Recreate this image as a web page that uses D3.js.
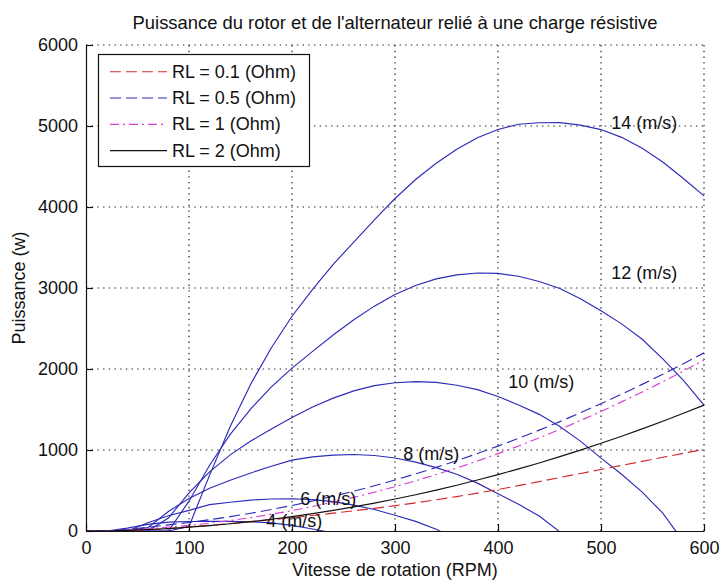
<!DOCTYPE html>
<html>
<head>
<meta charset="utf-8">
<script src="https://cdn.jsdelivr.net/npm/d3@7"></script>
<style>
  html, body { margin: 0; padding: 0; background: #fff; }
  svg { display: block; }
  text { font-family: "Liberation Sans", Arial, Helvetica, sans-serif; fill: #111; }
</style>
</head>
<body>
<svg id="chart" width="720" height="583"></svg>
<script>
// ---------------- data ----------------
const rpm = [0,20,40,60,80,100,120,140,160,180,200,220,240,260,280,300,320,340,360,380,400,420,440,460,480,500,520,540,560,580,600];

// rotor power (W) for each wind speed
const windSpeeds = ["4 (m/s)", "6 (m/s)", "8 (m/s)", "10 (m/s)", "12 (m/s)", "14 (m/s)"];
const rotor4  = [0,0,35,82,110,117,119,118,114,100,70,25,-25,null,null,null,null,null,null,null,null,null,null,null,null,null,null,null,null,null,null];
const rotor6  = [0,0,0,102,189,255,325,355,382,395,398,388,362,320,266,194,119,22,-108,null,null,null,null,null,null,null,null,null,null,null,null];
const rotor8  = [0,0,0,41,241,402,527,627,717,799,875,915,937,944,932,901,850,782,701,591,461,330,184,-10,-256,null,null,null,null,null,null];
const rotor10 = [0,0,0,0,160,470,730,940,1110,1260,1400,1530,1640,1730,1795,1830,1845,1835,1800,1745,1660,1555,1440,1290,1110,900,700,480,220,-130,-500];
const rotor12 = [0,0,0,0,0,368,812,1193,1509,1780,2011,2217,2419,2609,2776,2920,3030,3113,3162,3185,3180,3145,3081,2993,2868,2718,2557,2367,2125,1861,1555];
const rotor14 = [0,0,0,0,0,55,690,1290,1816,2263,2651,2982,3293,3567,3842,4105,4340,4541,4714,4854,4956,5022,5040,5042,5010,4956,4860,4725,4555,4352,4137];

// wind-speed label anchor points (data coordinates)
const labelRpm   = [175, 208, 308, 410, 510, 510];
const labelPower = [118, 397, 945, 1845, 3185, 5040];

// alternator power (W) for each load resistance
const loadLabels = ["RL = 0.1 (Ohm)", "RL = 0.5 (Ohm)", "RL = 1 (Ohm)", "RL = 2 (Ohm)"];
const alt01 = [0,0,5,15,30,50,70,92,115,140,165,192,220,250,280,313,348,385,425,468,512,560,610,660,710,760,810,860,910,960,1008];
const alt05 = [0,0,20,45,76,105,139,177,219,265,315,370,429,491,558,630,705,785,868,956,1048,1145,1245,1350,1459,1572,1689,1810,1936,2065,2199];
const alt1  = [0,0,14,28,47,69,97,129,165,206,252,302,356,415,479,547,620,697,778,864,955,1050,1150,1254,1363,1476,1594,1716,1843,1974,2110];
const alt2  = [0,0,8,18,30,47,66,89,115,145,178,215,254,298,344,395,448,505,565,629,696,767,840,918,998,1083,1170,1261,1355,1453,1554];

const xTicks = [0,100,200,300,400,500,600];
const yTicks = [0,1000,2000,3000,4000,5000,6000];

const titleText = "Puissance du rotor et de l'alternateur relié à une charge résistive";
const xLabel = "Vitesse de rotation (RPM)";
const yLabel = "Puissance (w)";

// ---------------- layout / style ----------------
const L = 86, R = 704, T = 45, B = 531;
const FONT = 18;
const BLUE = "#2c2cb8", RED = "#d42828", MAGENTA = "#d63fd2", BLACK = "#111";
const LW = 1.15;
const rotorSeries = [rotor4, rotor6, rotor8, rotor10, rotor12, rotor14];
const altSeries = [alt01, alt05, alt1, alt2];
const altStyles = [
  {color: RED, dash: "11,5"},
  {color: BLUE, dash: "11,5"},
  {color: MAGENTA, dash: "9,4,2,4"},
  {color: BLACK, dash: null}
];

const svg = d3.select("#chart");
const x = d3.scaleLinear().domain([0, 600]).range([L, R]);
const y = d3.scaleLinear().domain([0, 6000]).range([B, T]);

svg.append("defs").append("clipPath").attr("id", "plotclip")
  .append("rect").attr("x", L).attr("y", T - 2).attr("width", R - L + 1).attr("height", B - T + 2);

// grid (dotted)
const grid = svg.append("g").attr("stroke", "#222").attr("stroke-width", 1.2).attr("stroke-dasharray", "1.4,4.3");
grid.selectAll(".gx").data(xTicks.filter(d => d > 0)).join("line")
  .attr("x1", d => x(d)).attr("x2", d => x(d)).attr("y1", B).attr("y2", T);
grid.selectAll(".gy").data(yTicks.filter(d => d > 0)).join("line")
  .attr("x1", L).attr("x2", R).attr("y1", d => y(d)).attr("y2", d => y(d));

// curves
const plot = svg.append("g").attr("clip-path", "url(#plotclip)");
const line = d3.line()
  .defined(d => d[1] !== null)
  .x(d => x(d[0])).y(d => y(d[1]));

rotorSeries.forEach(vals => {
  plot.append("path")
    .attr("d", line(rpm.map((r, i) => [r, vals[i]])))
    .attr("fill", "none").attr("stroke", BLUE).attr("stroke-width", LW);
});
altSeries.forEach((vals, k) => {
  plot.append("path")
    .attr("d", line(rpm.map((r, i) => [r, vals[i]])))
    .attr("fill", "none").attr("stroke", altStyles[k].color).attr("stroke-width", LW)
    .attr("stroke-dasharray", altStyles[k].dash);
});

// wind labels
svg.append("g").selectAll("text").data(windSpeeds).join("text")
  .attr("x", (d, i) => x(labelRpm[i]))
  .attr("y", (d, i) => y(labelPower[i]))
  .attr("dominant-baseline", "central")
  .attr("font-size", FONT)
  .text(d => d);

// axes
const axL = svg.append("g").attr("transform", `translate(${L},0)`)
  .call(d3.axisLeft(y).tickValues(yTicks).tickFormat(d3.format("d")).tickSizeInner(-7).tickSizeOuter(0).tickPadding(8));
const axB = svg.append("g").attr("transform", `translate(0,${B})`)
  .call(d3.axisBottom(x).tickValues(xTicks).tickFormat(d3.format("d")).tickSizeInner(-7).tickSizeOuter(0).tickPadding(10));
[axL, axB].forEach(a => {
  a.attr("font-family", null).attr("font-size", null);
  a.select(".domain").attr("stroke", "#111").attr("stroke-width", 1.2);
  a.selectAll(".tick line").attr("stroke", "#111").attr("stroke-width", 1.2);
  a.selectAll(".tick text").attr("font-size", FONT).attr("fill", "#111");
});

// titles
svg.append("text").attr("x", (L + R) / 2).attr("y", 29).attr("text-anchor", "middle")
  .attr("font-size", 18.4).text(titleText);
svg.append("text").attr("x", (L + R) / 2).attr("y", 576).attr("text-anchor", "middle")
  .attr("font-size", FONT).text(xLabel);
svg.append("text").attr("transform", "translate(25,288) rotate(-90)").attr("text-anchor", "middle")
  .attr("font-size", FONT).text(yLabel);

// legend
const lg = svg.append("g");
lg.append("rect").attr("x", 98.5).attr("y", 54.5).attr("width", 211).attr("height", 112)
  .attr("fill", "#fff").attr("stroke", "#111").attr("stroke-width", 1.2);
const rowY = i => 71.7 + i * 26.3;
loadLabels.forEach((lab, i) => {
  lg.append("line").attr("x1", 110).attr("x2", 167).attr("y1", rowY(i)).attr("y2", rowY(i))
    .attr("stroke", altStyles[i].color).attr("stroke-width", LW)
    .attr("stroke-dasharray", altStyles[i].dash);
  lg.append("text").attr("x", 172).attr("y", rowY(i)).attr("dominant-baseline", "central")
    .attr("font-size", FONT).text(lab);
});
</script>
</body>
</html>
